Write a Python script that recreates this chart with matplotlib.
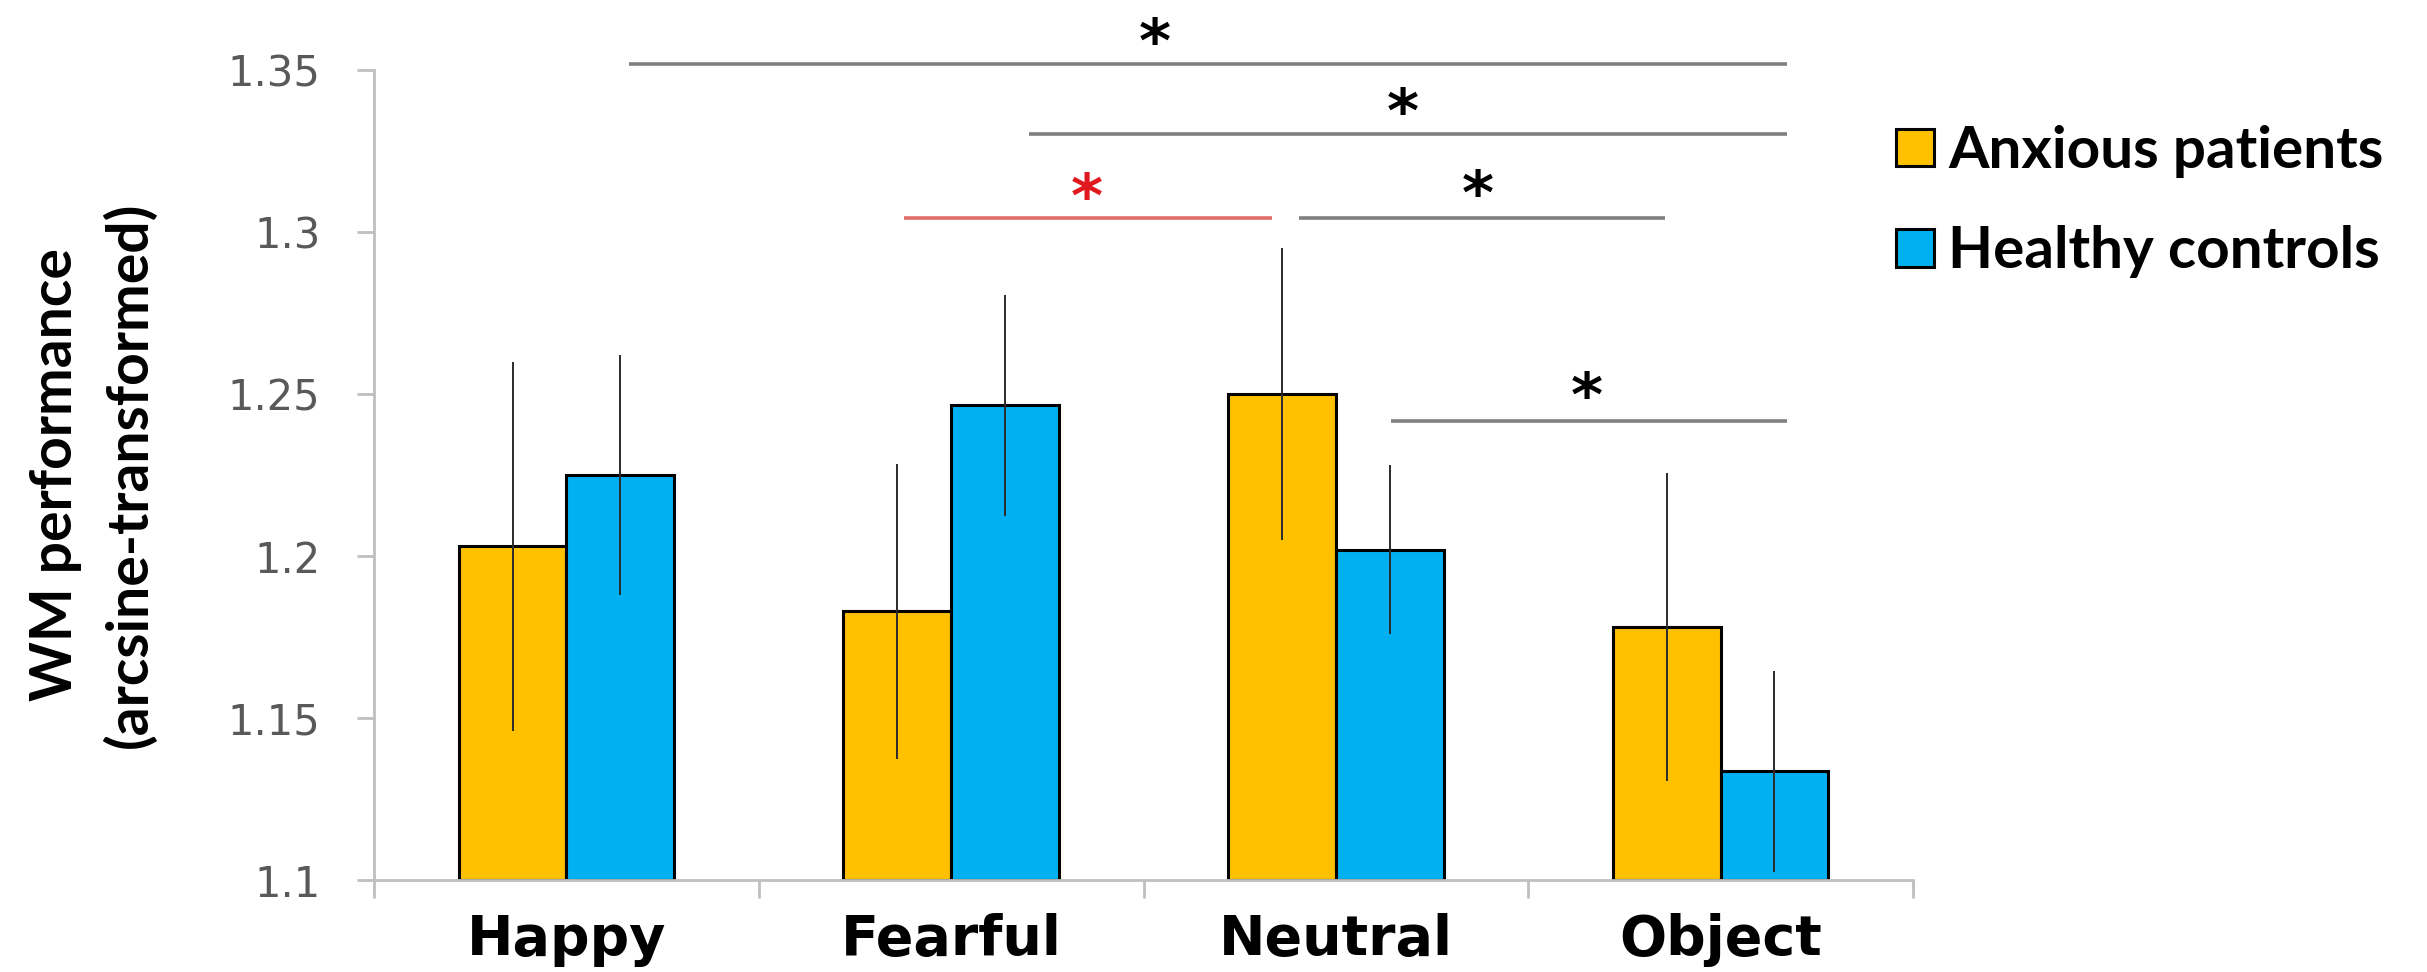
"""plot.py: WM performance bar chart, anxious patients vs healthy controls"""

import matplotlib
matplotlib.use('Agg')
import matplotlib.pyplot as plt
import numpy as np

# data
categories = ['Happy', 'Fearful', 'Neutral', 'Object']
anxious = [1.203, 1.183, 1.250, 1.178]
anxious_err = [0.057, 0.0455, 0.045, 0.0475]
controls = [1.225, 1.2465, 1.202, 1.1335]
controls_err = [0.037, 0.034, 0.026, 0.031]
group_names = ['Anxious patients', 'Healthy controls']
y_ticks = [1.1, 1.15, 1.2, 1.25, 1.3, 1.35]
y_tick_labels = ['1.1', '1.15', '1.2', '1.25', '1.3', '1.35']

# significance brackets: (x start, x end, y, colour) and stars (x, y, colour)
sig_lines = [(0.162, 3.173, 1.3518, '#808080'),
             (1.203, 3.173, 1.3303, '#808080'),
             (0.877, 1.835, 1.3043, '#e36c6c'),
             (1.903, 2.855, 1.3043, '#808080'),
             (2.144, 3.173, 1.2417, '#808080')]
sig_stars = [(1.529, 1.3617, 'black'),
             (2.175, 1.3401, 'black'),
             (1.352, 1.3139, '#e0191e'),
             (2.370, 1.3148, 'black'),
             (2.651, 1.2525, 'black')]


def main():
    W, H = 2427, 972
    fig = plt.figure(figsize=(W / 100, H / 100), dpi=100)
    ax = fig.add_axes([374 / W, 1 - 880 / H, (1913 - 374) / W, 810 / H])

    x = np.arange(len(categories))
    width = 0.28
    b1 = ax.bar(x - width / 2, np.array(anxious) - 1.1, width, bottom=1.1,
                color='#ffc000', edgecolor='black', linewidth=2.2, zorder=2,
                label=group_names[0])
    b2 = ax.bar(x + width / 2, np.array(controls) - 1.1, width, bottom=1.1,
                color='#00b0f0', edgecolor='black', linewidth=2.2, zorder=2,
                label=group_names[1])
    ax.errorbar(x - width / 2, anxious, yerr=anxious_err, fmt='none',
                ecolor='#2b2b2b', elinewidth=1.4, capsize=0, zorder=3)
    ax.errorbar(x + width / 2, controls, yerr=controls_err, fmt='none',
                ecolor='#2b2b2b', elinewidth=1.4, capsize=0, zorder=3)

    # significance lines and stars
    for x0, x1, y, c in sig_lines:
        ax.plot([x0, x1], [y, y], color=c, linewidth=2.6, clip_on=False,
                solid_capstyle='butt')
    for sx, sy, c in sig_stars:
        # asterisk glyph sits high in the font, nudge it down a bit
        ax.annotate('*', xy=(sx, sy), xytext=(0, -10),
                    textcoords='offset points', color=c, fontsize=44,
                    fontweight='bold', ha='center', va='center',
                    family='DejaVu Sans', annotation_clip=False)

    ax.set_xlim(-0.5, 3.5)
    ax.set_ylim(1.1, 1.35)

    # axes styling
    for side in ['top', 'right']:
        ax.spines[side].set_visible(False)
    for side in ['left', 'bottom']:
        ax.spines[side].set_color('#bfbfbf')
        ax.spines[side].set_linewidth(2)
    ax.spines['bottom'].set_zorder(4)

    ax.set_yticks(y_ticks)
    ax.set_yticklabels(y_tick_labels, fontsize=30, color='#595959',
                       family='DejaVu Sans')
    ax.tick_params(axis='y', direction='out', length=12.5, width=2,
                   color='#bfbfbf', pad=26)

    ax.set_xticks(x)
    ax.set_xticklabels(categories, fontsize=40, fontweight='bold',
                       family='DejaVu Sans')
    ax.tick_params(axis='x', which='major', length=0, pad=24)
    ax.set_xticks(np.arange(-0.5, 4, 1), minor=True)
    ax.tick_params(axis='x', which='minor', direction='out', length=13,
                   width=2, color='#bfbfbf')

    fig.text(55 / W, 1 - 475 / H, 'WM performance', rotation=90,
             fontsize=41, fontweight='bold', family=['Lato', 'DejaVu Sans'],
             ha='center', va='center')
    fig.text(130 / W, 1 - 475 / H, '(arcsine-transformed)', rotation=90,
             fontsize=41, fontweight='bold', family=['Lato', 'DejaVu Sans'],
             ha='center', va='center')

    fig.legend(handles=[b1, b2], loc='upper left',
               bbox_to_anchor=(1896 / W, 1 - 125 / H),
               frameon=False, borderpad=0, borderaxespad=0,
               handlelength=0.65, handleheight=0.62,
               handletextpad=0.24, labelspacing=0.81,
               prop={'family': 'Lato', 'weight': 'bold', 'size': 42})

    fig.savefig('out.png', dpi=100)


if __name__ == "__main__":
    main()
